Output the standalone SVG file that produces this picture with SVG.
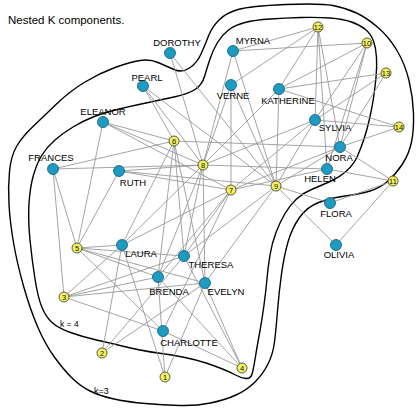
<svg xmlns="http://www.w3.org/2000/svg" width="420" height="408" viewBox="0 0 420 408">
<style>
.bg{fill:#fff}
.k{fill:none;stroke:#000;stroke-width:1.4}
.e line{stroke:#9a9a9a;stroke-width:0.9}
.w circle{fill:#1f9ac0;stroke:#0b5d7a;stroke-width:0.8}
.v circle{fill:#f4f25c;stroke:#333;stroke-width:0.8}
.w text{font-family:"Liberation Sans",Arial,sans-serif;font-size:9.5px;fill:#000;text-anchor:middle}
.v text{font-family:"Liberation Sans",Arial,sans-serif;font-size:7.5px;fill:#111;text-anchor:middle}
.t{font-family:"Liberation Sans",Arial,sans-serif;fill:#000}
</style>
<rect class="bg" x="0" y="0" width="420" height="408"/>
<text class="t" x="8" y="24" font-size="11.5">Nested K components.</text>
<g id="k3">
<path class="k" d="M 9,204.5 Q 8,187 9.5,171.5 Q 11,156 16.5,146.5 Q 22,137 32.5,127 Q 43,117 56.5,104 Q 70,91 85,82 Q 100,73 115,67.5 Q 130,62 140,60.5 Q 150,59 158,62.5 Q 166,66 174,69.5 Q 182,73 189.5,68 Q 197,63 201,54 Q 205,45 208.5,36 Q 212,27 219,20 Q 226,13 238,9.5 Q 250,6 285,4.5 Q 320,3 333,5.5 Q 346,8 356.5,13 Q 367,18 378,27.5 Q 389,37 397,50.5 Q 405,64 409,80.5 Q 413,97 413.5,113.5 Q 414,130 411.5,142 Q 409,154 402.5,164 Q 396,174 388,181 Q 380,188 370,191 Q 360,194 345,196 Q 330,198 318.5,202.5 Q 307,207 299.5,217.5 Q 292,228 288,242 Q 284,256 281.5,274 Q 279,292 277.5,311 Q 276,330 274.5,342 Q 273,354 268,364 Q 263,374 255,382 Q 247,390 236,395 Q 225,400 210.5,403 Q 196,406 179.5,405.5 Q 163,405 145.5,403.5 Q 128,402 114,399 Q 100,396 90,391 Q 80,386 71.5,377.5 Q 63,369 54,356.5 Q 45,344 37.5,326.5 Q 30,309 23.5,286 Q 17,263 13.5,242.5 Q 10,222 9,204.5 Z"/>
<text class="t" x="94" y="394" font-size="9">k=3</text>
</g>
<g id="k4">
<path class="k" d="M 30,240 Q 28,220 29,203.5 Q 30,187 33.5,175 Q 37,163 42,155 Q 47,147 55,140 Q 63,133 73,127 Q 83,121 93,117 Q 103,113 115,110 Q 127,107 143.5,103.5 Q 160,100 174,97 Q 188,94 195,89.5 Q 202,85 204.5,76.5 Q 207,68 210,59 Q 213,50 217.5,42.5 Q 222,35 228.5,30 Q 235,25 245,22.5 Q 255,20 270,19 Q 285,18 301,17.5 Q 317,17 330,18 Q 343,19 351.5,22 Q 360,25 365.5,29.5 Q 371,34 373.5,41 Q 376,48 376.5,57.5 Q 377,67 376,77.5 Q 375,88 373.5,98 Q 372,108 369.5,119 Q 367,130 364,139 Q 361,148 357.5,156 Q 354,164 347,170.5 Q 340,177 330,181.5 Q 320,186 311.5,189.5 Q 303,193 296.5,199 Q 290,205 285,213.5 Q 280,222 276,232.5 Q 272,243 270,255 Q 268,267 267,278.5 Q 266,290 264,305 Q 262,320 259.5,333.5 Q 257,347 255.5,356.5 Q 254,366 252.5,372.5 Q 251,379 246,378.5 Q 241,378 235.5,375 Q 230,372 222.5,369 Q 215,366 206,363 Q 197,360 185,357.5 Q 173,355 161.5,353.5 Q 150,352 140,350 Q 130,348 120,345.5 Q 110,343 96.5,340 Q 83,337 70.5,332.5 Q 58,328 52,322.5 Q 46,317 42,307.5 Q 38,298 35,279 Q 32,260 30,240 Z"/>
<text class="t" x="60" y="327" font-size="8.5">k = 4</text>
</g>
<g id="connectors" class="e">
<line x1="205" y1="283" x2="165" y2="377"/><line x1="205" y1="283" x2="102" y2="353"/><line x1="205" y1="283" x2="64" y2="297"/><line x1="205" y1="283" x2="242" y2="368"/><line x1="205" y1="283" x2="77" y2="248"/><line x1="205" y1="283" x2="174" y2="141"/><line x1="205" y1="283" x2="203" y2="165"/><line x1="205" y1="283" x2="276" y2="186"/>
<line x1="122" y1="245" x2="165" y2="377"/><line x1="122" y1="245" x2="102" y2="353"/><line x1="122" y1="245" x2="64" y2="297"/><line x1="122" y1="245" x2="77" y2="248"/><line x1="122" y1="245" x2="174" y2="141"/><line x1="122" y1="245" x2="231" y2="190"/><line x1="122" y1="245" x2="203" y2="165"/>
<line x1="184" y1="256" x2="102" y2="353"/><line x1="184" y1="256" x2="64" y2="297"/><line x1="184" y1="256" x2="242" y2="368"/><line x1="184" y1="256" x2="77" y2="248"/><line x1="184" y1="256" x2="174" y2="141"/><line x1="184" y1="256" x2="231" y2="190"/><line x1="184" y1="256" x2="203" y2="165"/><line x1="184" y1="256" x2="276" y2="186"/>
<line x1="158" y1="277" x2="165" y2="377"/><line x1="158" y1="277" x2="64" y2="297"/><line x1="158" y1="277" x2="242" y2="368"/><line x1="158" y1="277" x2="77" y2="248"/><line x1="158" y1="277" x2="174" y2="141"/><line x1="158" y1="277" x2="231" y2="190"/><line x1="158" y1="277" x2="203" y2="165"/>
<line x1="163" y1="331" x2="64" y2="297"/><line x1="163" y1="331" x2="242" y2="368"/><line x1="163" y1="331" x2="77" y2="248"/><line x1="163" y1="331" x2="231" y2="190"/>
<line x1="53" y1="169" x2="64" y2="297"/><line x1="53" y1="169" x2="77" y2="248"/><line x1="53" y1="169" x2="174" y2="141"/><line x1="53" y1="169" x2="203" y2="165"/>
<line x1="103" y1="122" x2="77" y2="248"/><line x1="103" y1="122" x2="174" y2="141"/><line x1="103" y1="122" x2="231" y2="190"/><line x1="103" y1="122" x2="203" y2="165"/>
<line x1="143" y1="86" x2="174" y2="141"/><line x1="143" y1="86" x2="203" y2="165"/><line x1="143" y1="86" x2="276" y2="186"/>
<line x1="119" y1="171" x2="77" y2="248"/><line x1="119" y1="171" x2="231" y2="190"/><line x1="119" y1="171" x2="203" y2="165"/><line x1="119" y1="171" x2="276" y2="186"/>
<line x1="231" y1="85" x2="231" y2="190"/><line x1="231" y1="85" x2="203" y2="165"/><line x1="231" y1="85" x2="276" y2="186"/><line x1="231" y1="85" x2="318" y2="27"/>
<line x1="233" y1="51" x2="203" y2="165"/><line x1="233" y1="51" x2="276" y2="186"/><line x1="233" y1="51" x2="367" y2="43"/><line x1="233" y1="51" x2="318" y2="27"/>
<line x1="279" y1="89" x2="203" y2="165"/><line x1="279" y1="89" x2="276" y2="186"/><line x1="279" y1="89" x2="367" y2="43"/><line x1="279" y1="89" x2="318" y2="27"/><line x1="279" y1="89" x2="386" y2="73"/><line x1="279" y1="89" x2="399" y2="127"/>
<line x1="315" y1="120" x2="231" y2="190"/><line x1="315" y1="120" x2="203" y2="165"/><line x1="315" y1="120" x2="276" y2="186"/><line x1="315" y1="120" x2="367" y2="43"/><line x1="315" y1="120" x2="318" y2="27"/><line x1="315" y1="120" x2="386" y2="73"/><line x1="315" y1="120" x2="399" y2="127"/>
<line x1="340" y1="147" x2="174" y2="141"/><line x1="340" y1="147" x2="231" y2="190"/><line x1="340" y1="147" x2="276" y2="186"/><line x1="340" y1="147" x2="367" y2="43"/><line x1="340" y1="147" x2="393" y2="181"/><line x1="340" y1="147" x2="318" y2="27"/><line x1="340" y1="147" x2="386" y2="73"/><line x1="340" y1="147" x2="399" y2="127"/>
<line x1="327" y1="169" x2="231" y2="190"/><line x1="327" y1="169" x2="203" y2="165"/><line x1="327" y1="169" x2="367" y2="43"/><line x1="327" y1="169" x2="393" y2="181"/><line x1="327" y1="169" x2="318" y2="27"/>
<line x1="170" y1="53" x2="203" y2="165"/><line x1="170" y1="53" x2="276" y2="186"/>
<line x1="336" y1="245" x2="276" y2="186"/><line x1="336" y1="245" x2="393" y2="181"/>
<line x1="330" y1="203" x2="276" y2="186"/><line x1="330" y1="203" x2="393" y2="181"/>
</g>
<g id="EVELYN" class="w"><circle cx="205" cy="283" r="5.5"/><text x="226" y="295">EVELYN</text></g>
<g id="LAURA" class="w"><circle cx="122" cy="245" r="5.5"/><text x="141" y="257">LAURA</text></g>
<g id="THERESA" class="w"><circle cx="184" cy="256" r="5.5"/><text x="211" y="268">THERESA</text></g>
<g id="BRENDA" class="w"><circle cx="158" cy="277" r="5.5"/><text x="169" y="295">BRENDA</text></g>
<g id="CHARLOTTE" class="w"><circle cx="163" cy="331" r="5.5"/><text x="189" y="346">CHARLOTTE</text></g>
<g id="FRANCES" class="w"><circle cx="53" cy="169" r="5.5"/><text x="51" y="161">FRANCES</text></g>
<g id="ELEANOR" class="w"><circle cx="103" cy="122" r="5.5"/><text x="103" y="115">ELEANOR</text></g>
<g id="PEARL" class="w"><circle cx="143" cy="86" r="5.5"/><text x="147" y="81">PEARL</text></g>
<g id="RUTH" class="w"><circle cx="119" cy="171" r="5.5"/><text x="133" y="186">RUTH</text></g>
<g id="VERNE" class="w"><circle cx="231" cy="85" r="5.5"/><text x="233" y="99">VERNE</text></g>
<g id="MYRNA" class="w"><circle cx="233" cy="51" r="5.5"/><text x="253" y="44">MYRNA</text></g>
<g id="KATHERINE" class="w"><circle cx="279" cy="89" r="5.5"/><text x="288" y="104">KATHERINE</text></g>
<g id="SYLVIA" class="w"><circle cx="315" cy="120" r="5.5"/><text x="335" y="131">SYLVIA</text></g>
<g id="NORA" class="w"><circle cx="340" cy="147" r="5.5"/><text x="339" y="161">NORA</text></g>
<g id="HELEN" class="w"><circle cx="327" cy="169" r="5.5"/><text x="320" y="182">HELEN</text></g>
<g id="DOROTHY" class="w"><circle cx="170" cy="53" r="5.5"/><text x="177" y="46">DOROTHY</text></g>
<g id="OLIVIA" class="w"><circle cx="336" cy="245" r="5.5"/><text x="339" y="258">OLIVIA</text></g>
<g id="FLORA" class="w"><circle cx="330" cy="203" r="5.5"/><text x="336" y="217">FLORA</text></g>
<g id="E1" class="v"><circle cx="165" cy="377" r="5"/><text x="165" y="379.7">1</text></g>
<g id="E2" class="v"><circle cx="102" cy="353" r="5"/><text x="102" y="355.7">2</text></g>
<g id="E3" class="v"><circle cx="64" cy="297" r="5"/><text x="64" y="299.7">3</text></g>
<g id="E4" class="v"><circle cx="242" cy="368" r="5"/><text x="242" y="370.7">4</text></g>
<g id="E5" class="v"><circle cx="77" cy="248" r="5"/><text x="77" y="250.7">5</text></g>
<g id="E6" class="v"><circle cx="174" cy="141" r="5"/><text x="174" y="143.7">6</text></g>
<g id="E7" class="v"><circle cx="231" cy="190" r="5"/><text x="231" y="192.7">7</text></g>
<g id="E8" class="v"><circle cx="203" cy="165" r="5"/><text x="203" y="167.7">8</text></g>
<g id="E9" class="v"><circle cx="276" cy="186" r="5"/><text x="276" y="188.7">9</text></g>
<g id="E10" class="v"><circle cx="367" cy="43" r="5"/><text x="367" y="45.7">10</text></g>
<g id="E11" class="v"><circle cx="393" cy="181" r="5"/><text x="393" y="183.7">11</text></g>
<g id="E12" class="v"><circle cx="318" cy="27" r="5"/><text x="318" y="29.7">12</text></g>
<g id="E13" class="v"><circle cx="386" cy="73" r="5"/><text x="386" y="75.7">13</text></g>
<g id="E14" class="v"><circle cx="399" cy="127" r="5"/><text x="399" y="129.7">14</text></g>
</svg>
